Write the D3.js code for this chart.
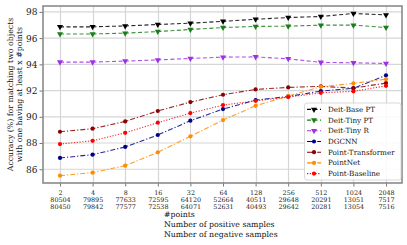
<!DOCTYPE html>
<html><head><meta charset="utf-8">
<script src="https://cdn.jsdelivr.net/npm/d3@7"></script>
<style>body{margin:0;background:#fff}svg{display:block}text{font-family:"DejaVu Serif",serif}</style>
</head><body><svg id="c" width="407" height="245"></svg>
<script>
const points = [2,4,8,16,32,64,128,256,512,1024,2048];
const positives = [80504,79895,77633,72595,64120,52664,40511,29648,20291,13051,7517];
const negatives = [80450,79842,77577,72538,64071,52631,40493,29642,20281,13054,7516];
const yTicks = [86,88,90,92,94,96,98];
const deitBase = [96.86,96.86,96.93,97.04,97.14,97.28,97.44,97.57,97.65,97.88,97.77];
const deitTinyPT = [96.32,96.32,96.38,96.50,96.66,96.81,96.89,96.91,96.99,96.99,96.81];
const deitTinyR = [94.17,94.17,94.25,94.34,94.45,94.55,94.57,94.42,94.15,94.12,94.07];
const dgcnn = [86.86,87.11,87.70,88.61,89.70,90.59,91.27,91.55,91.96,92.17,93.16];
const pointTransformer = [88.86,89.09,89.65,90.44,91.12,91.68,92.09,92.24,92.32,92.19,92.57];
const pointNet = [85.51,85.74,86.27,87.29,88.51,89.75,90.84,91.58,92.29,92.55,92.87];
const pointBaseline = [87.92,88.17,88.78,89.55,90.28,90.89,91.22,91.50,91.83,91.94,92.36];

const series = [
  {name:"Deit-Base PT", v:deitBase, color:"#000000", dash:"4,2.5", marker:"tri"},
  {name:"Deit-Tiny PT", v:deitTinyPT, color:"#1a7f1a", dash:"4,2.5", marker:"tri"},
  {name:"Deit-Tiny R", v:deitTinyR, color:"#a030e8", dash:"4,2.5", marker:"tri"},
  {name:"DGCNN", v:dgcnn, color:"#00008b", dash:"5,2,1.2,2", marker:"circ"},
  {name:"Point-Transformer", v:pointTransformer, color:"#8b0000", dash:"5,2,1.2,2", marker:"circ"},
  {name:"PointNet", v:pointNet, color:"#ff8c00", dash:"5,2,1.2,2", marker:"circ"},
  {name:"Point-Baseline", v:pointBaseline, color:"#ff0000", dash:"1.2,1.6", marker:"circ"}
];

const L=43, R=402, T=6, B=183;
const svg = d3.select("#c");
const x = d3.scaleLog().base(2).domain([Math.pow(2,0.479), Math.pow(2,11.49)]).range([L,R]);
const y = d3.scaleLinear().domain([84.95,98.45]).range([B,T]);

// grid
const g = svg.append("g");
g.selectAll("line.vx").data(points).join("line")
  .attr("x1",d=>Math.round(x(d))+0.5).attr("x2",d=>Math.round(x(d))+0.5).attr("y1",T).attr("y2",B)
  .attr("stroke","#d6d6d6").attr("stroke-width",1.2);
g.selectAll("line.hy").data(yTicks).join("line")
  .attr("y1",d=>y(d)).attr("y2",d=>y(d)).attr("x1",L).attr("x2",R)
  .attr("stroke","#d6d6d6").attr("stroke-width",1.2);

// axes
const xAxis = d3.axisBottom(x).tickValues(points).tickSize(3.5).tickFormat(()=>"");
const ax = svg.append("g").attr("transform",`translate(0,${B})`).call(xAxis);
ax.select(".domain").remove();
ax.selectAll(".tick line").attr("stroke","#555").attr("stroke-width",0.8);
ax.selectAll(".tick").each(function(d,i){
  const t = d3.select(this).append("text").attr("fill","#222").attr("font-size","6.4px").attr("text-anchor","middle");
  t.append("tspan").attr("x",0).attr("y",11.6).text(d);
  t.append("tspan").attr("x",0).attr("y",18.6).text(positives[i]);
  t.append("tspan").attr("x",0).attr("y",25.6).text(negatives[i]);
});
const yAxis = d3.axisLeft(y).tickValues(yTicks).tickSize(3.5).tickPadding(2);
const ay = svg.append("g").attr("transform",`translate(${L},0)`).call(yAxis);
ay.select(".domain").remove();
ay.selectAll(".tick line").attr("stroke","#555").attr("stroke-width",0.8);
ay.selectAll(".tick text").attr("font-size","9px").attr("fill","#222").attr("font-family","DejaVu Serif");

// frame
svg.append("rect").attr("x",L).attr("y",T).attr("width",R-L).attr("height",B-T)
  .attr("fill","none").attr("stroke","#8a8a8a").attr("stroke-width",1.6);

// lines
const line = d3.line().x((d,i)=>x(points[i])).y(d=>y(d));
const tri = d3.symbol().type(d3.symbolTriangle).size(16);
function drawMarker(sel, s, px, py){
  if(s.marker==="tri"){
    sel.append("path").attr("d",tri()).attr("transform",`translate(${px},${py}) rotate(180)`).attr("fill",s.color);
  } else {
    sel.append("circle").attr("cx",px).attr("cy",py).attr("r",2.1).attr("fill",s.color);
  }
}
series.forEach(s=>{
  const gs = svg.append("g");
  gs.append("path").datum(s.v).attr("d",line).attr("fill","none").attr("stroke",s.color)
    .attr("stroke-width",1.1).attr("stroke-dasharray",s.dash).attr("opacity",0.85);
  s.v.forEach((v,i)=>drawMarker(gs,s,x(points[i]),y(v)));
});

// legend
const lg = svg.append("g");
lg.append("rect").attr("x",304.5).attr("y",103).attr("width",96.5).attr("height",77)
  .attr("rx",2.5).attr("fill","#fff").attr("fill-opacity",0.85).attr("stroke","#cfcfcf").attr("stroke-width",0.8);
series.forEach((s,i)=>{
  const cy = 109.4 + i*10.7;
  lg.append("line").attr("x1",307).attr("x2",321).attr("y1",cy).attr("y2",cy)
    .attr("stroke",s.color).attr("stroke-width",1.1).attr("stroke-dasharray",s.dash);
  drawMarker(lg,s,314,cy);
  lg.append("text").attr("x",328).attr("y",cy).attr("dy","0.35em").attr("font-size","7.2px").attr("fill","#111").text(s.name);
});

// axis labels
const yl = svg.append("text").attr("transform",`translate(0,${(T+B)/2}) rotate(-90)`)
  .attr("text-anchor","middle").attr("font-size","7.8px").attr("fill","#111");
yl.append("tspan").attr("x",0).attr("y",13.2).text("Accuracy (%) for matching two objects");
yl.append("tspan").attr("x",0).attr("y",21.8).text("with one having at least x #points");

const xl = svg.append("text").attr("font-size","7.8px").attr("fill","#111");
["#points","Number of positive samples","Number of negative samples"].forEach((t,i)=>{
  xl.append("tspan").attr("x",164).attr("y",217.2+i*9.8).text(t);
});
</script></body></html>
